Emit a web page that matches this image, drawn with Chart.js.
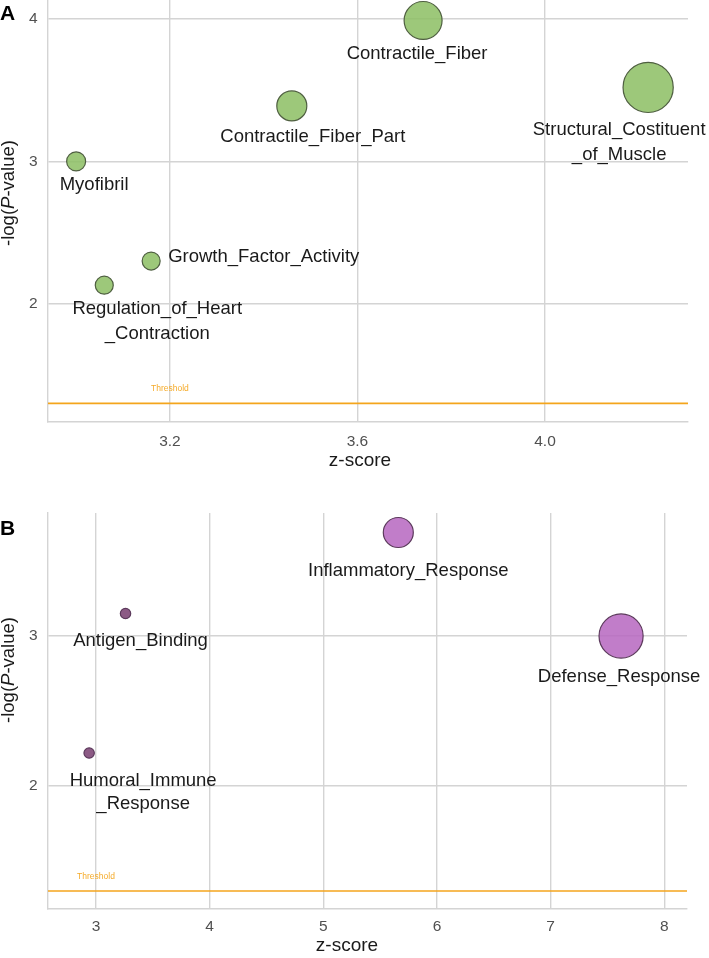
<!DOCTYPE html>
<html>
<head>
<meta charset="utf-8">
<script src="https://cdn.jsdelivr.net/npm/chart.js@4.4.0/dist/chart.umd.min.js"></script>
<style>
  body { margin: 0; background: #fff; width: 709px; height: 958px; position: relative; overflow: hidden;
         font-family: 'Liberation Sans', Arial, sans-serif; }
  canvas { position: absolute; left: 0; }
  .tag { position: absolute; left: 0; font-weight: bold; font-size: 21px; line-height: 1; color: #000; }
</style>
</head>
<body>
<canvas id="chartA" width="709" height="480" style="top:0"></canvas>
<canvas id="chartB" width="709" height="478" style="top:480px"></canvas>
<div class="tag" style="top:2px">A</div>
<div class="tag" style="top:517px">B</div>
<script>
// panel A
var namesA = ['Myofibril', 'Contractile_Fiber_Part', 'Contractile_Fiber', 'Structural_Costituent\n_of_Muscle',
  'Growth_Factor_Activity', 'Regulation_of_Heart\n_Contraction'];
var zScoreA = [3.00, 3.46, 3.74, 4.22, 3.16, 3.06];
var logPA = [3.00, 3.39, 3.99, 3.52, 2.30, 2.13];
var countA = [10, 25, 40, 70, 9, 9];
var xTicksA = [3.2, 3.6, 4.0];
var yTicksA = [2, 3, 4];
var xRangeA = [2.94, 4.305];
var yRangeA = [1.169, 4.134];

// panel B
var namesB = ['Antigen_Binding', 'Humoral_Immune\n_Response', 'Inflammatory_Response', 'Defense_Response'];
var zScoreB = [3.26, 2.94, 5.66, 7.62];
var logPB = [3.15, 2.22, 3.69, 3.00];
var countB = [3, 3, 25, 54];
var xTicksB = [3, 4, 5, 6, 7, 8];
var yTicksB = [2, 3];
var xRangeB = [2.578, 8.2];
var yRangeB = [1.18, 3.82];

var threshold = 1.3;

var FONT = "'Liberation Sans', Arial, sans-serif";
var GRID = '#d4d4d4';

var extras = {
  id: 'extras',
  afterDatasetsDraw: function (chart, args, opts) {
    var ctx = chart.ctx;
    var meta = chart.getDatasetMeta(0);
    ctx.save();

    // bubble labels
    ctx.fillStyle = '#1a1a1a';
    ctx.font = '18.5px ' + FONT;
    ctx.textBaseline = 'middle';
    opts.names.forEach(function (name, i) {
      var el = meta.data[i];
      var off = opts.offsets[i];
      ctx.textAlign = off[2] || 'center';
      name.split('\n').forEach(function (line, j) {
        ctx.fillText(line, el.x + off[0], el.y + off[1] + j * opts.lineGap);
      });
    });

    // threshold label
    ctx.font = '8.5px ' + FONT;
    ctx.fillStyle = '#f5ab2a';
    ctx.textAlign = 'center';
    ctx.fillText('Threshold', chart.scales.x.getPixelForValue(opts.thresholdX),
      chart.scales.y.getPixelForValue(threshold) - 14.5);

    // x title
    ctx.fillStyle = '#1a1a1a';
    ctx.font = '19px ' + FONT;
    ctx.fillText('z-score', opts.xTitle[0], opts.xTitle[1]);

    // y title with italic P
    var parts = [['-log(', ''], ['P', 'italic '], ['-value)', '']];
    ctx.translate(opts.yTitle[0], opts.yTitle[1]);
    ctx.rotate(-Math.PI / 2);
    ctx.textAlign = 'left';
    var total = 0;
    parts.forEach(function (p) { ctx.font = p[1] + '18.5px ' + FONT; total += ctx.measureText(p[0]).width; });
    var pos = -total / 2;
    parts.forEach(function (p) {
      ctx.font = p[1] + '18.5px ' + FONT;
      ctx.fillText(p[0], pos, 0);
      pos += ctx.measureText(p[0]).width;
    });
    ctx.restore();
  }
};

function buildChart(id, p) {
  var points = p.x.map(function (v, i) {
    return { x: v, y: p.y[i], r: 3 * Math.sqrt(p.count[i]) };
  });
  return new Chart(document.getElementById(id), {
    type: 'bubble',
    data: {
      datasets: [{
        data: points,
        backgroundColor: p.count.map(p.fill),
        borderColor: p.border,
        borderWidth: 1.2,
        clip: false
      }, {
        type: 'line',
        data: [{ x: p.xRange[0], y: threshold }, { x: p.xRange[1], y: threshold }],
        borderColor: '#f4a51c',
        borderWidth: 1.6,
        pointRadius: 0,
        fill: false
      }]
    },
    options: {
      responsive: false,
      devicePixelRatio: 1,
      animation: false,
      events: [],
      layout: { padding: p.padding, autoPadding: false },
      scales: {
        x: {
          type: 'linear',
          min: p.xRange[0],
          max: p.xRange[1],
          afterBuildTicks: function (s) { s.ticks = p.xTicks.map(function (v) { return { value: v }; }); },
          afterFit: function (s) { s.height = p.xHeight; s.paddingLeft = 0; s.paddingRight = 0; },
          ticks: {
            callback: p.xFmt,
            font: { family: FONT, size: 15.5 },
            color: '#505050',
            padding: p.xPad,
            maxRotation: 0
          },
          grid: { color: GRID, lineWidth: 1.4, drawTicks: false },
          border: { color: GRID, width: 1.4 }
        },
        y: {
          type: 'linear',
          min: p.yRange[0],
          max: p.yRange[1],
          afterBuildTicks: function (s) { s.ticks = p.yTicks.map(function (v) { return { value: v }; }); },
          afterFit: function (s) { s.width = 48; s.paddingTop = 0; s.paddingBottom = 0; },
          ticks: {
            callback: function (v) { return String(v); },
            font: { family: FONT, size: 15.5 },
            color: '#505050',
            padding: 10.5
          },
          grid: { color: GRID, lineWidth: 1.4, drawTicks: false },
          border: { color: GRID, width: 1.4 }
        }
      },
      plugins: {
        legend: { display: false },
        tooltip: { enabled: false },
        extras: {
          names: p.names,
          offsets: p.offsets,
          lineGap: p.lineGap,
          thresholdX: p.thresholdX,
          xTitle: p.xTitle,
          yTitle: p.yTitle
        }
      }
    },
    plugins: [extras]
  });
}

buildChart('chartA', {
  names: namesA, x: zScoreA, y: logPA, count: countA,
  xTicks: xTicksA, yTicks: yTicksA, xRange: xRangeA, yRange: yRangeA,
  xFmt: function (v) { return v.toFixed(1); },
  fill: function () { return 'rgba(140,190,99,0.85)'; },
  border: '#4f5f41',
  padding: { left: 0, right: 21, top: 0, bottom: 0 },
  xHeight: 58, xPad: 10,
  offsets: [[18, 24], [21, 31], [-6, 33], [-29, 43], [17, -4, 'left'], [53, 24]],
  lineGap: 25,
  thresholdX: 3.2,
  xTitle: [360, 461],
  yTitle: [9, 193]
});

buildChart('chartB', {
  names: namesB, x: zScoreB, y: logPB, count: countB,
  xTicks: xTicksB, yTicks: yTicksB, xRange: xRangeB, yRange: yRangeB,
  xFmt: function (v) { return String(v); },
  fill: function (c) { return c < 10 ? 'rgba(120,61,112,0.85)' : 'rgba(182,102,192,0.85)'; },
  border: '#5c3a5c',
  padding: { left: 0, right: 22, top: 33, bottom: 0 },
  xHeight: 49, xPad: 8,
  offsets: [[15, 27], [54, 28], [10, 38], [-2, 41]],
  lineGap: 23,
  thresholdX: 3.0,
  xTitle: [347, 466],
  yTitle: [9, 190]
});
</script>
</body>
</html>
